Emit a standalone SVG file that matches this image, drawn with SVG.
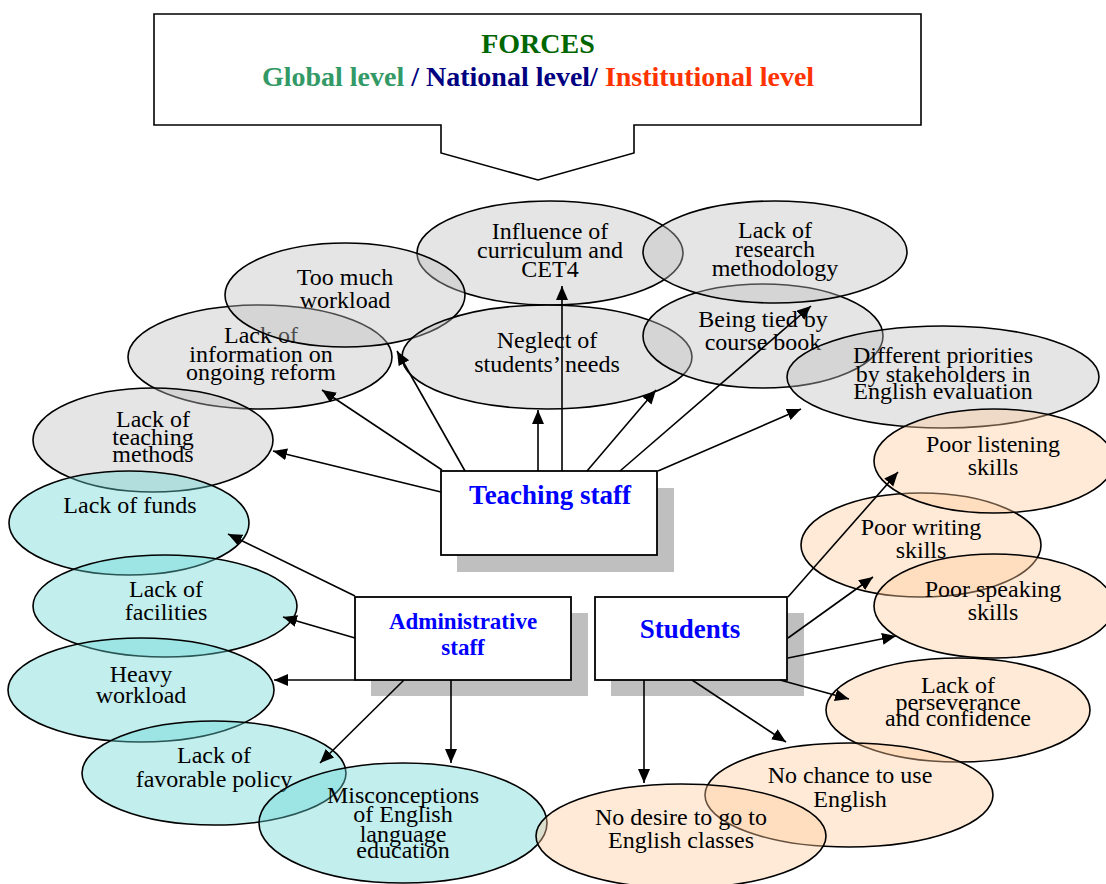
<svg xmlns="http://www.w3.org/2000/svg" width="1106" height="884" viewBox="0 0 1106 884">
  <defs>
    <marker id="arrow" markerUnits="userSpaceOnUse" markerWidth="15" markerHeight="13" refX="14" refY="6" orient="auto">
      <path d="M0,0 L14,6 L0,12 z" fill="#000"/>
    </marker>
    <style>
      .ell { stroke: #000; stroke-width: 1.6; }
      .grey { fill: #bebebe; fill-opacity: 0.4; }
      .cyan { fill: #66d4d4; fill-opacity: 0.4; }
      .peach { fill: #ffca9b; fill-opacity: 0.4; }
      .lbl { font-family: "Liberation Serif", "Times New Roman", serif; font-size: 24px; fill: #000; text-anchor: middle; }
      .box { fill: #fff; stroke: #000; stroke-width: 1.8; }
      .shadow { fill: #bfbfbf; }
      .head { font-family: "Liberation Serif", "Times New Roman", serif; font-weight: bold; fill: #0000ff; text-anchor: middle; }
      .conn line { stroke: #000; stroke-width: 1.6; marker-end: url(#arrow); }
      .title { font-family: "Liberation Serif", "Times New Roman", serif; font-weight: bold; font-size: 28px; text-anchor: middle; }
    </style>
  </defs>

  <rect width="1106" height="884" fill="#fff"/>

  <!-- Forces banner with downward pointer -->
  <g id="forces">
    <polygon points="154,14 921,14 921,125 634,125 634,153 538,180 441,153 441,125 154,125" fill="#fff" stroke="#000" stroke-width="1.6"/>
    <text class="title" x="538" y="53" fill="#006600">FORCES</text>
    <text class="title" x="538" y="86"><tspan fill="#339966">Global level </tspan><tspan fill="#000080">/ National level/ </tspan><tspan fill="#ff3300">Institutional level</tspan></text>
  </g>

  <!-- Teaching staff factors -->
  <g id="influence-curriculum">
    <ellipse class="ell grey" cx="550" cy="253" rx="133" ry="52"/>
    <text class="lbl" x="550"><tspan x="550" y="239">Influence of</tspan><tspan x="550" y="258">curriculum and</tspan><tspan x="550" y="277">CET4</tspan></text>
  </g>
  <g id="lack-information">
    <ellipse class="ell grey" cx="260" cy="357" rx="132" ry="52"/>
    <text class="lbl"><tspan x="261" y="343">Lack of</tspan><tspan x="261" y="362">information on</tspan><tspan x="261" y="380">ongoing reform</tspan></text>
  </g>
  <g id="too-much-workload">
    <ellipse class="ell grey" cx="345" cy="295" rx="120" ry="52"/>
    <text class="lbl"><tspan x="345" y="285">Too much</tspan><tspan x="345" y="308">workload</tspan></text>
  </g>
  <g id="neglect-needs">
    <ellipse class="ell grey" cx="547" cy="357" rx="145" ry="52"/>
    <text class="lbl"><tspan x="547" y="348">Neglect of</tspan><tspan x="547" y="372">students’ needs</tspan></text>
  </g>
  <g id="tied-course-book">
    <ellipse class="ell grey" cx="763" cy="336" rx="120" ry="52"/>
    <text class="lbl"><tspan x="763" y="327">Being tied by</tspan><tspan x="763" y="350">course book</tspan></text>
  </g>
  <g id="lack-research">
    <ellipse class="ell grey" cx="775" cy="252" rx="132" ry="51"/>
    <text class="lbl"><tspan x="775" y="238">Lack of</tspan><tspan x="775" y="257">research</tspan><tspan x="775" y="276">methodology</tspan></text>
  </g>
  <g id="different-priorities">
    <ellipse class="ell grey" cx="943" cy="377" rx="156" ry="51"/>
    <text class="lbl"><tspan x="943" y="363">Different priorities</tspan><tspan x="943" y="382">by stakeholders in</tspan><tspan x="943" y="399">English evaluation</tspan></text>
  </g>
  <g id="lack-teaching-methods">
    <ellipse class="ell grey" cx="153" cy="440" rx="120" ry="52"/>
    <text class="lbl"><tspan x="153" y="427">Lack of</tspan><tspan x="153" y="445">teaching</tspan><tspan x="153" y="462">methods</tspan></text>
  </g>

  <!-- Administrative staff factors -->
  <g id="lack-funds">
    <ellipse class="ell cyan" cx="129" cy="523" rx="120" ry="52"/>
    <text class="lbl" x="130" y="513">Lack of funds</text>
  </g>
  <g id="lack-facilities">
    <ellipse class="ell cyan" cx="165" cy="606" rx="132" ry="51"/>
    <text class="lbl"><tspan x="166" y="597">Lack of</tspan><tspan x="166" y="620">facilities</tspan></text>
  </g>
  <g id="heavy-workload">
    <ellipse class="ell cyan" cx="141" cy="690" rx="133" ry="52"/>
    <text class="lbl"><tspan x="141" y="682">Heavy</tspan><tspan x="141" y="703">workload</tspan></text>
  </g>
  <g id="lack-policy">
    <ellipse class="ell cyan" cx="214" cy="773" rx="132" ry="52"/>
    <text class="lbl"><tspan x="214" y="763">Lack of</tspan><tspan x="214" y="787">favorable policy</tspan></text>
  </g>
  <g id="misconceptions">
    <ellipse class="ell cyan" cx="403" cy="823" rx="144" ry="60"/>
    <text class="lbl"><tspan x="403" y="803">Misconceptions</tspan><tspan x="403" y="822">of English</tspan><tspan x="403" y="842">language</tspan><tspan x="403" y="858">education</tspan></text>
  </g>

  <!-- Student factors -->
  <g id="poor-writing">
    <ellipse class="ell peach" cx="921" cy="545" rx="120" ry="52"/>
    <text class="lbl"><tspan x="921" y="535">Poor writing</tspan><tspan x="921" y="558">skills</tspan></text>
  </g>
  <g id="poor-listening">
    <ellipse class="ell peach" cx="994" cy="461" rx="120" ry="52"/>
    <text class="lbl"><tspan x="993" y="452">Poor listening</tspan><tspan x="993" y="475">skills</tspan></text>
  </g>
  <g id="poor-speaking">
    <ellipse class="ell peach" cx="994" cy="606" rx="120" ry="52"/>
    <text class="lbl"><tspan x="993" y="597">Poor speaking</tspan><tspan x="993" y="620">skills</tspan></text>
  </g>
  <g id="lack-perseverance">
    <ellipse class="ell peach" cx="958" cy="710" rx="132" ry="52"/>
    <text class="lbl"><tspan x="958" y="693">Lack of</tspan><tspan x="958" y="710">perseverance</tspan><tspan x="958" y="726">and confidence</tspan></text>
  </g>
  <g id="no-chance">
    <ellipse class="ell peach" cx="849" cy="795" rx="144" ry="52"/>
    <text class="lbl"><tspan x="850" y="783">No chance to use</tspan><tspan x="850" y="807">English</tspan></text>
  </g>
  <g id="no-desire">
    <ellipse class="ell peach" cx="681" cy="836" rx="145" ry="52"/>
    <text class="lbl"><tspan x="681" y="825">No desire to go to</tspan><tspan x="681" y="848">English classes</tspan></text>
  </g>

  <!-- Actor boxes with drop shadows -->
  <g id="teaching-staff">
    <rect class="shadow" x="457" y="488" width="217" height="84"/>
    <rect class="box" x="441" y="471" width="216" height="84"/>
    <text class="head" x="550" y="504" font-size="27">Teaching staff</text>
  </g>
  <g id="administrative-staff">
    <rect class="shadow" x="371" y="613" width="217" height="83"/>
    <rect class="box" x="355" y="597" width="216" height="83"/>
    <text class="head" font-size="23"><tspan x="463" y="629">Administrative</tspan><tspan x="463" y="655">staff</tspan></text>
  </g>
  <g id="students">
    <rect class="shadow" x="611" y="613" width="193" height="83"/>
    <rect class="box" x="595" y="597" width="192" height="83"/>
    <text class="head" x="690" y="638" font-size="27">Students</text>
  </g>

  <!-- Connectors, drawn over the box shadows -->
  <g id="connectors" class="conn">
    <line x1="441" y1="492" x2="273" y2="451"/>
    <line x1="442" y1="470" x2="322" y2="390"/>
    <line x1="465" y1="471" x2="397" y2="351"/>
    <line x1="538" y1="471" x2="538" y2="410"/>
    <line x1="562" y1="471" x2="562" y2="286"/>
    <line x1="587" y1="471" x2="656" y2="390"/>
    <line x1="620" y1="471" x2="811" y2="306"/>
    <line x1="658" y1="471" x2="801" y2="409"/>

    <line x1="355" y1="596" x2="228" y2="534"/>
    <line x1="355" y1="638" x2="283" y2="617"/>
    <line x1="355" y1="680" x2="274" y2="680"/>
    <line x1="404" y1="680" x2="320" y2="763"/>
    <line x1="451" y1="680" x2="451" y2="763"/>

    <line x1="788" y1="597" x2="898" y2="472"/>
    <line x1="788" y1="638" x2="873" y2="577"/>
    <line x1="788" y1="658" x2="896" y2="636"/>
    <line x1="780" y1="680" x2="849" y2="699"/>
    <line x1="692" y1="680" x2="786" y2="742"/>
    <line x1="644" y1="680" x2="644" y2="783"/>
  </g>
</svg>
